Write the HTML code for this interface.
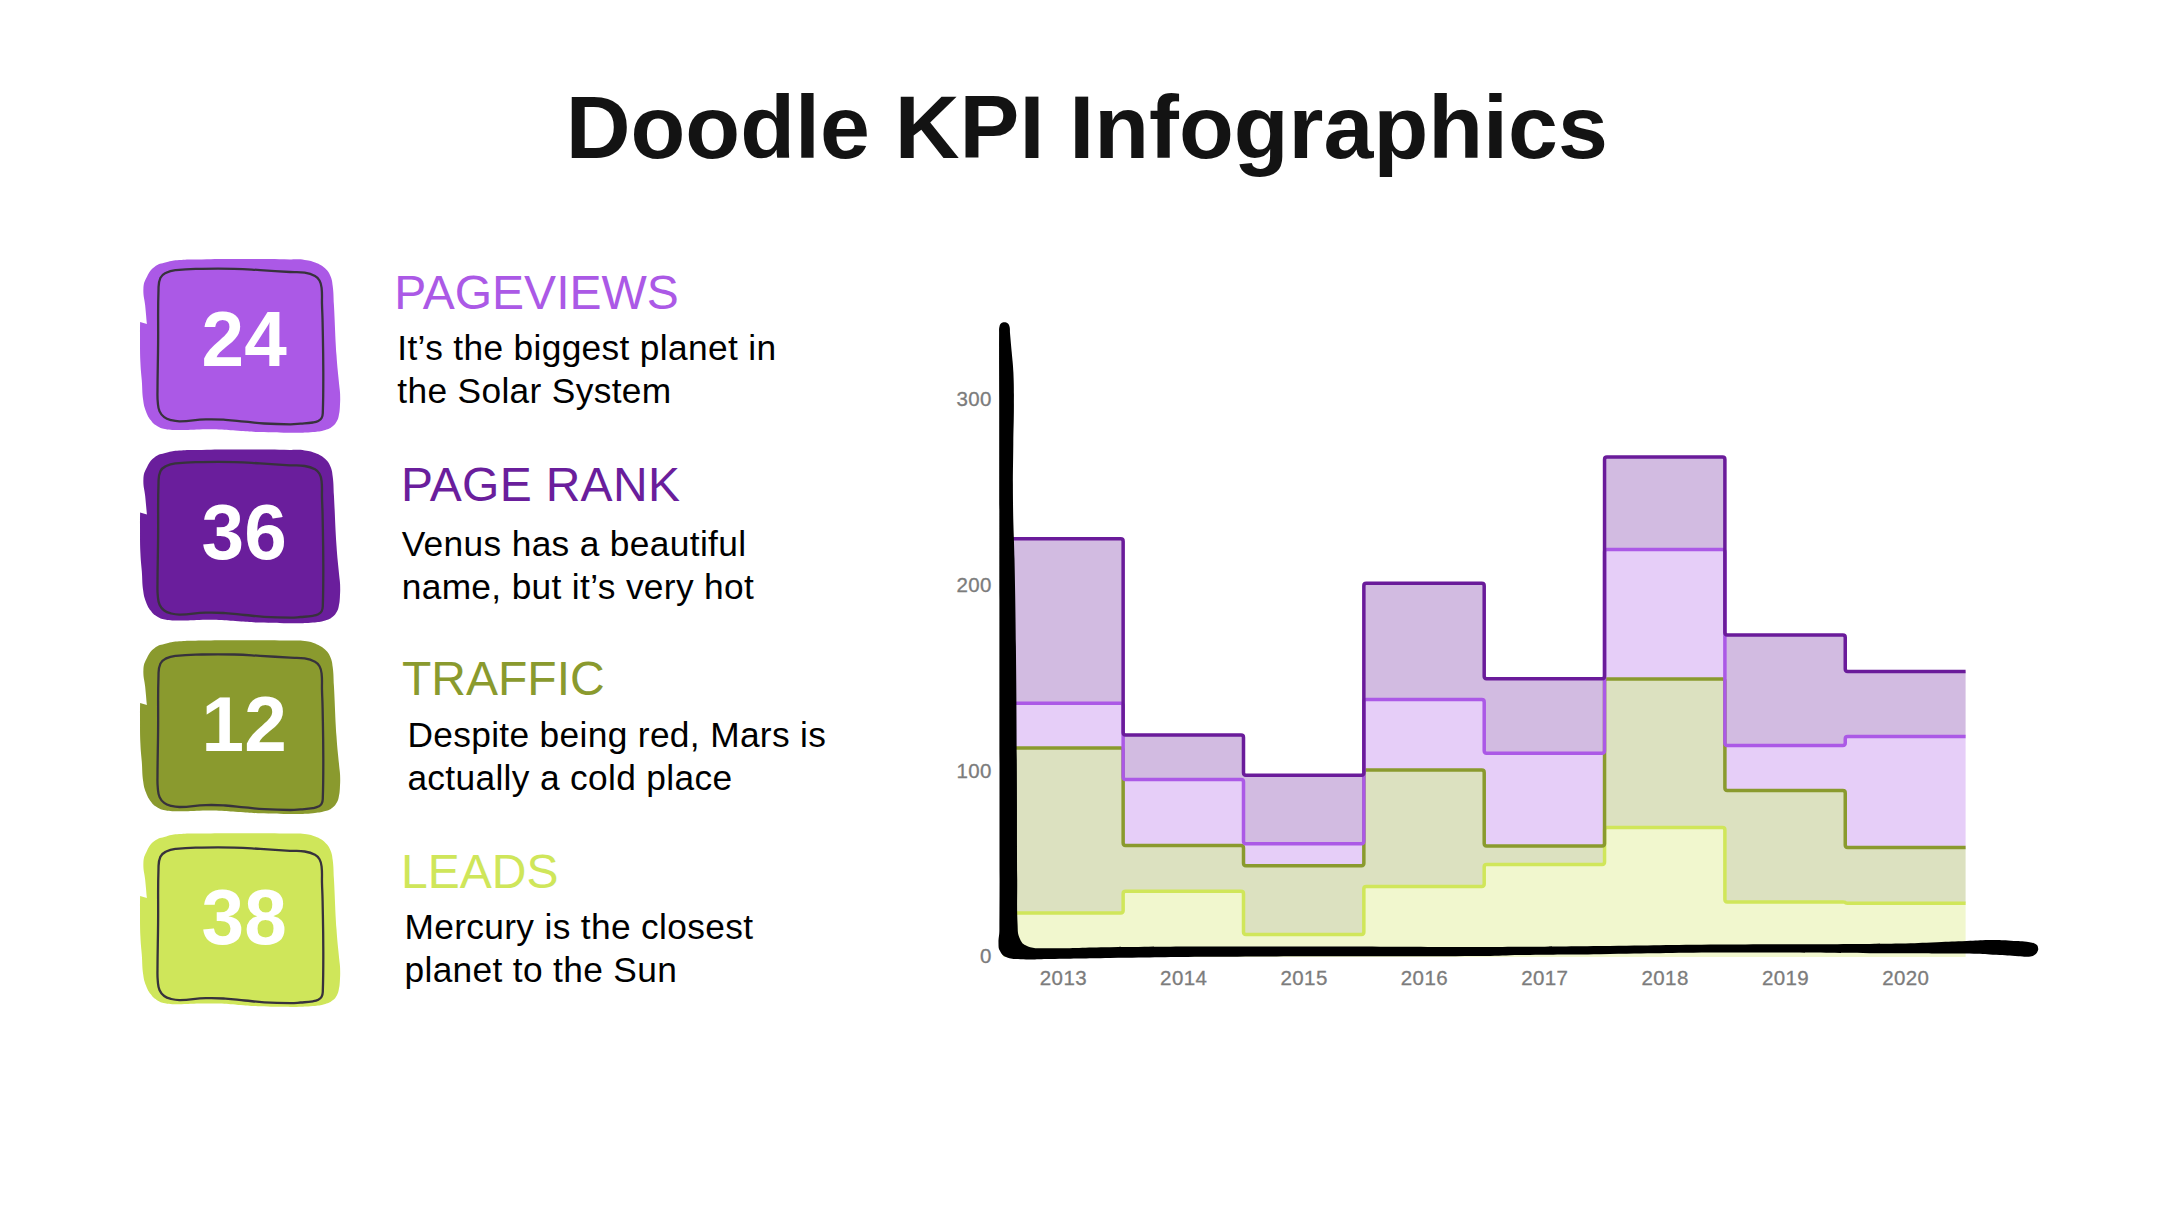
<!DOCTYPE html>
<html lang="en"><head><meta charset="utf-8"><title>Doodle KPI Infographics</title>
<style>
html,body{margin:0;padding:0;background:#fff;}
body{width:2160px;height:1215px;position:relative;overflow:hidden;font-family:"Liberation Sans",sans-serif;}
svg{position:absolute;left:0;top:0;}
.t{position:absolute;white-space:nowrap;line-height:1;margin:0;}
h1.t{font-weight:bold;color:#131313;}
.num{font-weight:bold;color:#fff;}

h2.t{font-weight:normal;}
.body{color:#000;font-size:35.3px;line-height:43px;letter-spacing:0.34px;}
.ax{font-size:20.5px;letter-spacing:0.4px;fill:#7c7c7c;stroke:#7c7c7c;stroke-width:0.3px;font-family:"Liberation Sans",sans-serif;}
</style></head><body>

<svg width="2160" height="1215" viewBox="0 0 2160 1215">
<path transform="translate(0,0.0)" d="M179.20,260.00 C189.44,259.17 191.53,259.57 201.80,259.40 C216.53,259.16 219.47,259.10 234.20,259.10 C259.56,259.10 266.50,259.13 290.00,259.40 C296.69,259.48 298.08,258.97 304.70,259.90 C310.43,260.71 311.67,260.95 317.00,263.20 C321.15,264.95 322.02,265.52 325.30,268.60 C328.13,271.26 328.67,272.03 330.20,275.60 C332.09,280.03 332.09,281.12 332.70,285.90 C333.77,294.26 333.44,295.99 333.90,304.40 C335.17,327.49 334.98,332.13 336.50,355.20 C337.39,368.77 338.00,372.03 339.20,385.00 C339.58,389.14 339.96,389.95 340.10,394.10 C340.28,399.73 340.24,400.87 339.90,406.50 C339.65,410.61 339.64,411.47 338.80,415.50 C338.23,418.23 338.18,418.88 336.80,421.30 C335.36,423.82 335.03,424.46 332.70,426.20 C329.69,428.45 328.91,428.84 325.30,429.90 C319.81,431.51 318.59,431.43 312.90,432.00 C305.47,432.75 303.96,432.62 296.50,432.80 C290.68,432.94 289.52,432.81 283.70,432.70 C271.93,432.49 269.57,432.59 257.80,432.10 C248.92,431.73 247.16,431.39 238.30,430.80 C229.48,430.21 227.73,429.80 218.90,429.50 C210.04,429.20 208.26,429.37 199.40,429.50 C190.31,429.64 188.49,430.21 179.40,430.10 C172.84,430.02 171.45,430.32 165.00,429.10 C161.01,428.34 160.13,427.97 156.70,425.80 C153.47,423.76 152.88,423.07 150.60,420.00 C147.96,416.44 147.56,415.55 146.00,411.40 C144.17,406.53 143.90,405.46 143.20,400.30 C141.99,391.41 142.46,389.55 141.80,380.60 C141.19,372.37 140.73,370.75 140.40,362.50 C139.91,350.14 140.09,347.66 140.00,335.30 C139.95,329.21 140.07,326.37 140.10,321.90 C142.37,322.57 144.63,323.23 146.90,323.90 C146.33,317.87 146.02,314.02 145.20,305.80 C144.43,298.16 143.10,296.67 143.40,289.00 C143.60,283.88 144.01,282.69 146.30,278.10 C149.09,272.51 149.51,270.88 154.40,267.00 C158.92,263.41 160.64,263.87 166.20,262.30 C171.98,260.67 173.22,260.49 179.20,260.00 Z" fill="#ab59e6"/><path transform="translate(0,0.0)" d="M158.50,290.00 C157.73,312.03 158.35,319.46 158.10,344.00 C157.89,364.91 157.60,370.57 157.50,390.00 C157.47,395.59 157.25,396.73 157.80,402.30 C158.21,406.50 157.94,407.53 159.60,411.40 C160.93,414.49 161.52,415.17 164.20,417.20 C166.96,419.29 167.85,419.33 171.20,420.20 C175.10,421.21 175.97,421.39 180.00,421.30 C191.57,421.03 194.10,419.79 205.90,419.40 C214.76,419.11 216.55,419.28 225.40,419.80 C234.24,420.32 235.98,420.86 244.80,421.70 C253.62,422.54 255.36,422.99 264.20,423.50 C276.00,424.18 278.38,424.24 290.20,424.30 C294.94,424.33 295.88,424.07 300.60,423.70 C306.20,423.26 307.35,423.38 312.90,422.50 C315.43,422.10 316.03,422.08 318.30,420.90 C320.07,419.98 320.65,419.76 321.60,418.00 C322.80,415.79 322.71,415.11 322.80,412.60 C323.37,397.17 323.34,390.29 323.30,371.70 C323.25,349.24 323.03,344.73 322.60,322.30 C322.44,314.16 322.24,312.54 322.00,304.40 C321.78,296.90 322.38,295.36 321.60,287.90 C321.24,284.42 321.20,283.56 319.50,280.50 C318.10,277.97 317.56,277.35 315.00,276.00 C310.65,273.71 309.55,273.48 304.70,272.70 C298.09,271.64 296.68,272.39 290.00,272.00 C276.45,271.21 273.75,270.88 260.20,270.10 C248.39,269.42 246.03,269.06 234.20,268.80 C219.48,268.47 216.52,268.47 201.80,268.80 C190.02,269.06 187.62,268.82 175.90,270.10 C171.36,270.60 170.28,270.65 166.20,272.70 C163.04,274.29 161.84,274.67 160.40,277.90 C158.14,282.99 158.69,284.44 158.50,290.00 Z" fill="none" stroke="#37323c" stroke-width="2.3" stroke-linejoin="round"/>
<path transform="translate(0,190.5)" d="M179.20,260.00 C189.44,259.17 191.53,259.57 201.80,259.40 C216.53,259.16 219.47,259.10 234.20,259.10 C259.56,259.10 266.50,259.13 290.00,259.40 C296.69,259.48 298.08,258.97 304.70,259.90 C310.43,260.71 311.67,260.95 317.00,263.20 C321.15,264.95 322.02,265.52 325.30,268.60 C328.13,271.26 328.67,272.03 330.20,275.60 C332.09,280.03 332.09,281.12 332.70,285.90 C333.77,294.26 333.44,295.99 333.90,304.40 C335.17,327.49 334.98,332.13 336.50,355.20 C337.39,368.77 338.00,372.03 339.20,385.00 C339.58,389.14 339.96,389.95 340.10,394.10 C340.28,399.73 340.24,400.87 339.90,406.50 C339.65,410.61 339.64,411.47 338.80,415.50 C338.23,418.23 338.18,418.88 336.80,421.30 C335.36,423.82 335.03,424.46 332.70,426.20 C329.69,428.45 328.91,428.84 325.30,429.90 C319.81,431.51 318.59,431.43 312.90,432.00 C305.47,432.75 303.96,432.62 296.50,432.80 C290.68,432.94 289.52,432.81 283.70,432.70 C271.93,432.49 269.57,432.59 257.80,432.10 C248.92,431.73 247.16,431.39 238.30,430.80 C229.48,430.21 227.73,429.80 218.90,429.50 C210.04,429.20 208.26,429.37 199.40,429.50 C190.31,429.64 188.49,430.21 179.40,430.10 C172.84,430.02 171.45,430.32 165.00,429.10 C161.01,428.34 160.13,427.97 156.70,425.80 C153.47,423.76 152.88,423.07 150.60,420.00 C147.96,416.44 147.56,415.55 146.00,411.40 C144.17,406.53 143.90,405.46 143.20,400.30 C141.99,391.41 142.46,389.55 141.80,380.60 C141.19,372.37 140.73,370.75 140.40,362.50 C139.91,350.14 140.09,347.66 140.00,335.30 C139.95,329.21 140.07,326.37 140.10,321.90 C142.37,322.57 144.63,323.23 146.90,323.90 C146.33,317.87 146.02,314.02 145.20,305.80 C144.43,298.16 143.10,296.67 143.40,289.00 C143.60,283.88 144.01,282.69 146.30,278.10 C149.09,272.51 149.51,270.88 154.40,267.00 C158.92,263.41 160.64,263.87 166.20,262.30 C171.98,260.67 173.22,260.49 179.20,260.00 Z" fill="#6a1e9c"/><path transform="translate(0,193.3)" d="M158.50,290.00 C157.73,312.03 158.35,319.46 158.10,344.00 C157.89,364.91 157.60,370.57 157.50,390.00 C157.47,395.59 157.25,396.73 157.80,402.30 C158.21,406.50 157.94,407.53 159.60,411.40 C160.93,414.49 161.52,415.17 164.20,417.20 C166.96,419.29 167.85,419.33 171.20,420.20 C175.10,421.21 175.97,421.39 180.00,421.30 C191.57,421.03 194.10,419.79 205.90,419.40 C214.76,419.11 216.55,419.28 225.40,419.80 C234.24,420.32 235.98,420.86 244.80,421.70 C253.62,422.54 255.36,422.99 264.20,423.50 C276.00,424.18 278.38,424.24 290.20,424.30 C294.94,424.33 295.88,424.07 300.60,423.70 C306.20,423.26 307.35,423.38 312.90,422.50 C315.43,422.10 316.03,422.08 318.30,420.90 C320.07,419.98 320.65,419.76 321.60,418.00 C322.80,415.79 322.71,415.11 322.80,412.60 C323.37,397.17 323.34,390.29 323.30,371.70 C323.25,349.24 323.03,344.73 322.60,322.30 C322.44,314.16 322.24,312.54 322.00,304.40 C321.78,296.90 322.38,295.36 321.60,287.90 C321.24,284.42 321.20,283.56 319.50,280.50 C318.10,277.97 317.56,277.35 315.00,276.00 C310.65,273.71 309.55,273.48 304.70,272.70 C298.09,271.64 296.68,272.39 290.00,272.00 C276.45,271.21 273.75,270.88 260.20,270.10 C248.39,269.42 246.03,269.06 234.20,268.80 C219.48,268.47 216.52,268.47 201.80,268.80 C190.02,269.06 187.62,268.82 175.90,270.10 C171.36,270.60 170.28,270.65 166.20,272.70 C163.04,274.29 161.84,274.67 160.40,277.90 C158.14,282.99 158.69,284.44 158.50,290.00 Z" fill="none" stroke="#37323c" stroke-width="2.3" stroke-linejoin="round"/>
<path transform="translate(0,381.2)" d="M179.20,260.00 C189.44,259.17 191.53,259.57 201.80,259.40 C216.53,259.16 219.47,259.10 234.20,259.10 C259.56,259.10 266.50,259.13 290.00,259.40 C296.69,259.48 298.08,258.97 304.70,259.90 C310.43,260.71 311.67,260.95 317.00,263.20 C321.15,264.95 322.02,265.52 325.30,268.60 C328.13,271.26 328.67,272.03 330.20,275.60 C332.09,280.03 332.09,281.12 332.70,285.90 C333.77,294.26 333.44,295.99 333.90,304.40 C335.17,327.49 334.98,332.13 336.50,355.20 C337.39,368.77 338.00,372.03 339.20,385.00 C339.58,389.14 339.96,389.95 340.10,394.10 C340.28,399.73 340.24,400.87 339.90,406.50 C339.65,410.61 339.64,411.47 338.80,415.50 C338.23,418.23 338.18,418.88 336.80,421.30 C335.36,423.82 335.03,424.46 332.70,426.20 C329.69,428.45 328.91,428.84 325.30,429.90 C319.81,431.51 318.59,431.43 312.90,432.00 C305.47,432.75 303.96,432.62 296.50,432.80 C290.68,432.94 289.52,432.81 283.70,432.70 C271.93,432.49 269.57,432.59 257.80,432.10 C248.92,431.73 247.16,431.39 238.30,430.80 C229.48,430.21 227.73,429.80 218.90,429.50 C210.04,429.20 208.26,429.37 199.40,429.50 C190.31,429.64 188.49,430.21 179.40,430.10 C172.84,430.02 171.45,430.32 165.00,429.10 C161.01,428.34 160.13,427.97 156.70,425.80 C153.47,423.76 152.88,423.07 150.60,420.00 C147.96,416.44 147.56,415.55 146.00,411.40 C144.17,406.53 143.90,405.46 143.20,400.30 C141.99,391.41 142.46,389.55 141.80,380.60 C141.19,372.37 140.73,370.75 140.40,362.50 C139.91,350.14 140.09,347.66 140.00,335.30 C139.95,329.21 140.07,326.37 140.10,321.90 C142.37,322.57 144.63,323.23 146.90,323.90 C146.33,317.87 146.02,314.02 145.20,305.80 C144.43,298.16 143.10,296.67 143.40,289.00 C143.60,283.88 144.01,282.69 146.30,278.10 C149.09,272.51 149.51,270.88 154.40,267.00 C158.92,263.41 160.64,263.87 166.20,262.30 C171.98,260.67 173.22,260.49 179.20,260.00 Z" fill="#8a9a2e"/><path transform="translate(0,385.7)" d="M158.50,290.00 C157.73,312.03 158.35,319.46 158.10,344.00 C157.89,364.91 157.60,370.57 157.50,390.00 C157.47,395.59 157.25,396.73 157.80,402.30 C158.21,406.50 157.94,407.53 159.60,411.40 C160.93,414.49 161.52,415.17 164.20,417.20 C166.96,419.29 167.85,419.33 171.20,420.20 C175.10,421.21 175.97,421.39 180.00,421.30 C191.57,421.03 194.10,419.79 205.90,419.40 C214.76,419.11 216.55,419.28 225.40,419.80 C234.24,420.32 235.98,420.86 244.80,421.70 C253.62,422.54 255.36,422.99 264.20,423.50 C276.00,424.18 278.38,424.24 290.20,424.30 C294.94,424.33 295.88,424.07 300.60,423.70 C306.20,423.26 307.35,423.38 312.90,422.50 C315.43,422.10 316.03,422.08 318.30,420.90 C320.07,419.98 320.65,419.76 321.60,418.00 C322.80,415.79 322.71,415.11 322.80,412.60 C323.37,397.17 323.34,390.29 323.30,371.70 C323.25,349.24 323.03,344.73 322.60,322.30 C322.44,314.16 322.24,312.54 322.00,304.40 C321.78,296.90 322.38,295.36 321.60,287.90 C321.24,284.42 321.20,283.56 319.50,280.50 C318.10,277.97 317.56,277.35 315.00,276.00 C310.65,273.71 309.55,273.48 304.70,272.70 C298.09,271.64 296.68,272.39 290.00,272.00 C276.45,271.21 273.75,270.88 260.20,270.10 C248.39,269.42 246.03,269.06 234.20,268.80 C219.48,268.47 216.52,268.47 201.80,268.80 C190.02,269.06 187.62,268.82 175.90,270.10 C171.36,270.60 170.28,270.65 166.20,272.70 C163.04,274.29 161.84,274.67 160.40,277.90 C158.14,282.99 158.69,284.44 158.50,290.00 Z" fill="none" stroke="#37323c" stroke-width="2.3" stroke-linejoin="round"/>
<path transform="translate(0,574.1)" d="M179.20,260.00 C189.44,259.17 191.53,259.57 201.80,259.40 C216.53,259.16 219.47,259.10 234.20,259.10 C259.56,259.10 266.50,259.13 290.00,259.40 C296.69,259.48 298.08,258.97 304.70,259.90 C310.43,260.71 311.67,260.95 317.00,263.20 C321.15,264.95 322.02,265.52 325.30,268.60 C328.13,271.26 328.67,272.03 330.20,275.60 C332.09,280.03 332.09,281.12 332.70,285.90 C333.77,294.26 333.44,295.99 333.90,304.40 C335.17,327.49 334.98,332.13 336.50,355.20 C337.39,368.77 338.00,372.03 339.20,385.00 C339.58,389.14 339.96,389.95 340.10,394.10 C340.28,399.73 340.24,400.87 339.90,406.50 C339.65,410.61 339.64,411.47 338.80,415.50 C338.23,418.23 338.18,418.88 336.80,421.30 C335.36,423.82 335.03,424.46 332.70,426.20 C329.69,428.45 328.91,428.84 325.30,429.90 C319.81,431.51 318.59,431.43 312.90,432.00 C305.47,432.75 303.96,432.62 296.50,432.80 C290.68,432.94 289.52,432.81 283.70,432.70 C271.93,432.49 269.57,432.59 257.80,432.10 C248.92,431.73 247.16,431.39 238.30,430.80 C229.48,430.21 227.73,429.80 218.90,429.50 C210.04,429.20 208.26,429.37 199.40,429.50 C190.31,429.64 188.49,430.21 179.40,430.10 C172.84,430.02 171.45,430.32 165.00,429.10 C161.01,428.34 160.13,427.97 156.70,425.80 C153.47,423.76 152.88,423.07 150.60,420.00 C147.96,416.44 147.56,415.55 146.00,411.40 C144.17,406.53 143.90,405.46 143.20,400.30 C141.99,391.41 142.46,389.55 141.80,380.60 C141.19,372.37 140.73,370.75 140.40,362.50 C139.91,350.14 140.09,347.66 140.00,335.30 C139.95,329.21 140.07,326.37 140.10,321.90 C142.37,322.57 144.63,323.23 146.90,323.90 C146.33,317.87 146.02,314.02 145.20,305.80 C144.43,298.16 143.10,296.67 143.40,289.00 C143.60,283.88 144.01,282.69 146.30,278.10 C149.09,272.51 149.51,270.88 154.40,267.00 C158.92,263.41 160.64,263.87 166.20,262.30 C171.98,260.67 173.22,260.49 179.20,260.00 Z" fill="#cfe65a"/><path transform="translate(0,578.8)" d="M158.50,290.00 C157.73,312.03 158.35,319.46 158.10,344.00 C157.89,364.91 157.60,370.57 157.50,390.00 C157.47,395.59 157.25,396.73 157.80,402.30 C158.21,406.50 157.94,407.53 159.60,411.40 C160.93,414.49 161.52,415.17 164.20,417.20 C166.96,419.29 167.85,419.33 171.20,420.20 C175.10,421.21 175.97,421.39 180.00,421.30 C191.57,421.03 194.10,419.79 205.90,419.40 C214.76,419.11 216.55,419.28 225.40,419.80 C234.24,420.32 235.98,420.86 244.80,421.70 C253.62,422.54 255.36,422.99 264.20,423.50 C276.00,424.18 278.38,424.24 290.20,424.30 C294.94,424.33 295.88,424.07 300.60,423.70 C306.20,423.26 307.35,423.38 312.90,422.50 C315.43,422.10 316.03,422.08 318.30,420.90 C320.07,419.98 320.65,419.76 321.60,418.00 C322.80,415.79 322.71,415.11 322.80,412.60 C323.37,397.17 323.34,390.29 323.30,371.70 C323.25,349.24 323.03,344.73 322.60,322.30 C322.44,314.16 322.24,312.54 322.00,304.40 C321.78,296.90 322.38,295.36 321.60,287.90 C321.24,284.42 321.20,283.56 319.50,280.50 C318.10,277.97 317.56,277.35 315.00,276.00 C310.65,273.71 309.55,273.48 304.70,272.70 C298.09,271.64 296.68,272.39 290.00,272.00 C276.45,271.21 273.75,270.88 260.20,270.10 C248.39,269.42 246.03,269.06 234.20,268.80 C219.48,268.47 216.52,268.47 201.80,268.80 C190.02,269.06 187.62,268.82 175.90,270.10 C171.36,270.60 170.28,270.65 166.20,272.70 C163.04,274.29 161.84,274.67 160.40,277.90 C158.14,282.99 158.69,284.44 158.50,290.00 Z" fill="none" stroke="#37323c" stroke-width="2.3" stroke-linejoin="round"/>
<path d="M1002.80,913.00 L1120.75,913.00 Q1123.15,913.00 1123.15,910.60 L1123.15,893.65 Q1123.15,891.25 1125.55,891.25 L1241.10,891.25 Q1243.50,891.25 1243.50,893.65 L1243.50,932.10 Q1243.50,934.50 1245.90,934.50 L1361.45,934.50 Q1363.85,934.50 1363.85,932.10 L1363.85,888.80 Q1363.85,886.40 1366.25,886.40 L1481.80,886.40 Q1484.20,886.40 1484.20,884.00 L1484.20,866.80 Q1484.20,864.40 1486.60,864.40 L1602.15,864.40 Q1604.55,864.40 1604.55,862.00 L1604.55,829.90 Q1604.55,827.50 1606.95,827.50 L1722.50,827.50 Q1724.90,827.50 1724.90,829.90 L1724.90,899.60 Q1724.90,902.00 1727.30,902.00 L1842.85,902.00 Q1845.25,902.00 1845.25,902.62 L1845.25,902.62 Q1845.25,903.25 1847.65,903.25 L1965.60,903.25 L1965.60,957.00 L1002.80,957.00 Z" fill="#f1f7ce"/>
<path d="M1002.80,748.00 L1120.75,748.00 Q1123.15,748.00 1123.15,750.40 L1123.15,843.10 Q1123.15,845.50 1125.55,845.50 L1241.10,845.50 Q1243.50,845.50 1243.50,847.90 L1243.50,863.35 Q1243.50,865.75 1245.90,865.75 L1361.45,865.75 Q1363.85,865.75 1363.85,863.35 L1363.85,772.40 Q1363.85,770.00 1366.25,770.00 L1481.80,770.00 Q1484.20,770.00 1484.20,772.40 L1484.20,843.60 Q1484.20,846.00 1486.60,846.00 L1602.15,846.00 Q1604.55,846.00 1604.55,843.60 L1604.55,681.40 Q1604.55,679.00 1606.95,679.00 L1722.50,679.00 Q1724.90,679.00 1724.90,681.40 L1724.90,788.10 Q1724.90,790.50 1727.30,790.50 L1842.85,790.50 Q1845.25,790.50 1845.25,792.90 L1845.25,845.10 Q1845.25,847.50 1847.65,847.50 L1965.60,847.50 L1965.60,903.25 L1847.65,903.25 Q1845.25,903.25 1845.25,902.62 L1845.25,902.62 Q1845.25,902.00 1842.85,902.00 L1727.30,902.00 Q1724.90,902.00 1724.90,899.60 L1724.90,829.90 Q1724.90,827.50 1722.50,827.50 L1606.95,827.50 Q1604.55,827.50 1604.55,829.90 L1604.55,862.00 Q1604.55,864.40 1602.15,864.40 L1486.60,864.40 Q1484.20,864.40 1484.20,866.80 L1484.20,884.00 Q1484.20,886.40 1481.80,886.40 L1366.25,886.40 Q1363.85,886.40 1363.85,888.80 L1363.85,932.10 Q1363.85,934.50 1361.45,934.50 L1245.90,934.50 Q1243.50,934.50 1243.50,932.10 L1243.50,893.65 Q1243.50,891.25 1241.10,891.25 L1125.55,891.25 Q1123.15,891.25 1123.15,893.65 L1123.15,910.60 Q1123.15,913.00 1120.75,913.00 L1002.80,913.00 Z" fill="#dce1c0"/>
<path d="M1002.80,703.25 L1120.75,703.25 Q1123.15,703.25 1123.15,705.65 L1123.15,777.00 Q1123.15,779.40 1125.55,779.40 L1241.10,779.40 Q1243.50,779.40 1243.50,781.80 L1243.50,841.35 Q1243.50,843.75 1245.90,843.75 L1361.45,843.75 Q1363.85,843.75 1363.85,841.35 L1363.85,701.90 Q1363.85,699.50 1366.25,699.50 L1481.80,699.50 Q1484.20,699.50 1484.20,701.90 L1484.20,750.85 Q1484.20,753.25 1486.60,753.25 L1602.15,753.25 Q1604.55,753.25 1604.55,750.85 L1604.55,551.90 Q1604.55,549.50 1606.95,549.50 L1722.50,549.50 Q1724.90,549.50 1724.90,551.90 L1724.90,743.10 Q1724.90,745.50 1727.30,745.50 L1842.85,745.50 Q1845.25,745.50 1845.25,743.10 L1845.25,738.90 Q1845.25,736.50 1847.65,736.50 L1965.60,736.50 L1965.60,847.50 L1847.65,847.50 Q1845.25,847.50 1845.25,845.10 L1845.25,792.90 Q1845.25,790.50 1842.85,790.50 L1727.30,790.50 Q1724.90,790.50 1724.90,788.10 L1724.90,681.40 Q1724.90,679.00 1722.50,679.00 L1606.95,679.00 Q1604.55,679.00 1604.55,681.40 L1604.55,843.60 Q1604.55,846.00 1602.15,846.00 L1486.60,846.00 Q1484.20,846.00 1484.20,843.60 L1484.20,772.40 Q1484.20,770.00 1481.80,770.00 L1366.25,770.00 Q1363.85,770.00 1363.85,772.40 L1363.85,863.35 Q1363.85,865.75 1361.45,865.75 L1245.90,865.75 Q1243.50,865.75 1243.50,863.35 L1243.50,847.90 Q1243.50,845.50 1241.10,845.50 L1125.55,845.50 Q1123.15,845.50 1123.15,843.10 L1123.15,750.40 Q1123.15,748.00 1120.75,748.00 L1002.80,748.00 Z" fill="#e6cef8"/>
<path d="M1002.80,538.75 L1120.75,538.75 Q1123.15,538.75 1123.15,541.15 L1123.15,732.60 Q1123.15,735.00 1125.55,735.00 L1241.10,735.00 Q1243.50,735.00 1243.50,737.40 L1243.50,772.80 Q1243.50,775.20 1245.90,775.20 L1361.45,775.20 Q1363.85,775.20 1363.85,772.80 L1363.85,585.65 Q1363.85,583.25 1366.25,583.25 L1481.80,583.25 Q1484.20,583.25 1484.20,585.65 L1484.20,676.35 Q1484.20,678.75 1486.60,678.75 L1602.15,678.75 Q1604.55,678.75 1604.55,676.35 L1604.55,459.40 Q1604.55,457.00 1606.95,457.00 L1722.50,457.00 Q1724.90,457.00 1724.90,459.40 L1724.90,632.60 Q1724.90,635.00 1727.30,635.00 L1842.85,635.00 Q1845.25,635.00 1845.25,637.40 L1845.25,669.10 Q1845.25,671.50 1847.65,671.50 L1965.60,671.50 L1965.60,736.50 L1847.65,736.50 Q1845.25,736.50 1845.25,738.90 L1845.25,743.10 Q1845.25,745.50 1842.85,745.50 L1727.30,745.50 Q1724.90,745.50 1724.90,743.10 L1724.90,551.90 Q1724.90,549.50 1722.50,549.50 L1606.95,549.50 Q1604.55,549.50 1604.55,551.90 L1604.55,750.85 Q1604.55,753.25 1602.15,753.25 L1486.60,753.25 Q1484.20,753.25 1484.20,750.85 L1484.20,701.90 Q1484.20,699.50 1481.80,699.50 L1366.25,699.50 Q1363.85,699.50 1363.85,701.90 L1363.85,841.35 Q1363.85,843.75 1361.45,843.75 L1245.90,843.75 Q1243.50,843.75 1243.50,841.35 L1243.50,781.80 Q1243.50,779.40 1241.10,779.40 L1125.55,779.40 Q1123.15,779.40 1123.15,777.00 L1123.15,705.65 Q1123.15,703.25 1120.75,703.25 L1002.80,703.25 Z" fill="#d2bbe1"/>
<path d="M1002.80,913.00 L1120.75,913.00 Q1123.15,913.00 1123.15,910.60 L1123.15,893.65 Q1123.15,891.25 1125.55,891.25 L1241.10,891.25 Q1243.50,891.25 1243.50,893.65 L1243.50,932.10 Q1243.50,934.50 1245.90,934.50 L1361.45,934.50 Q1363.85,934.50 1363.85,932.10 L1363.85,888.80 Q1363.85,886.40 1366.25,886.40 L1481.80,886.40 Q1484.20,886.40 1484.20,884.00 L1484.20,866.80 Q1484.20,864.40 1486.60,864.40 L1602.15,864.40 Q1604.55,864.40 1604.55,862.00 L1604.55,829.90 Q1604.55,827.50 1606.95,827.50 L1722.50,827.50 Q1724.90,827.50 1724.90,829.90 L1724.90,899.60 Q1724.90,902.00 1727.30,902.00 L1842.85,902.00 Q1845.25,902.00 1845.25,902.62 L1845.25,902.62 Q1845.25,903.25 1847.65,903.25 L1965.60,903.25 " fill="none" stroke="#d0e65a" stroke-width="3.5" stroke-linejoin="round" stroke-linecap="butt"/>
<path d="M1002.80,748.00 L1120.75,748.00 Q1123.15,748.00 1123.15,750.40 L1123.15,843.10 Q1123.15,845.50 1125.55,845.50 L1241.10,845.50 Q1243.50,845.50 1243.50,847.90 L1243.50,863.35 Q1243.50,865.75 1245.90,865.75 L1361.45,865.75 Q1363.85,865.75 1363.85,863.35 L1363.85,772.40 Q1363.85,770.00 1366.25,770.00 L1481.80,770.00 Q1484.20,770.00 1484.20,772.40 L1484.20,843.60 Q1484.20,846.00 1486.60,846.00 L1602.15,846.00 Q1604.55,846.00 1604.55,843.60 L1604.55,681.40 Q1604.55,679.00 1606.95,679.00 L1722.50,679.00 Q1724.90,679.00 1724.90,681.40 L1724.90,788.10 Q1724.90,790.50 1727.30,790.50 L1842.85,790.50 Q1845.25,790.50 1845.25,792.90 L1845.25,845.10 Q1845.25,847.50 1847.65,847.50 L1965.60,847.50 " fill="none" stroke="#8a9a2e" stroke-width="3.5" stroke-linejoin="round" stroke-linecap="butt"/>
<path d="M1002.80,703.25 L1120.75,703.25 Q1123.15,703.25 1123.15,705.65 L1123.15,777.00 Q1123.15,779.40 1125.55,779.40 L1241.10,779.40 Q1243.50,779.40 1243.50,781.80 L1243.50,841.35 Q1243.50,843.75 1245.90,843.75 L1361.45,843.75 Q1363.85,843.75 1363.85,841.35 L1363.85,701.90 Q1363.85,699.50 1366.25,699.50 L1481.80,699.50 Q1484.20,699.50 1484.20,701.90 L1484.20,750.85 Q1484.20,753.25 1486.60,753.25 L1602.15,753.25 Q1604.55,753.25 1604.55,750.85 L1604.55,551.90 Q1604.55,549.50 1606.95,549.50 L1722.50,549.50 Q1724.90,549.50 1724.90,551.90 L1724.90,743.10 Q1724.90,745.50 1727.30,745.50 L1842.85,745.50 Q1845.25,745.50 1845.25,743.10 L1845.25,738.90 Q1845.25,736.50 1847.65,736.50 L1965.60,736.50 " fill="none" stroke="#ab59e6" stroke-width="3.5" stroke-linejoin="round" stroke-linecap="butt"/>
<path d="M1002.80,538.75 L1120.75,538.75 Q1123.15,538.75 1123.15,541.15 L1123.15,732.60 Q1123.15,735.00 1125.55,735.00 L1241.10,735.00 Q1243.50,735.00 1243.50,737.40 L1243.50,772.80 Q1243.50,775.20 1245.90,775.20 L1361.45,775.20 Q1363.85,775.20 1363.85,772.80 L1363.85,585.65 Q1363.85,583.25 1366.25,583.25 L1481.80,583.25 Q1484.20,583.25 1484.20,585.65 L1484.20,676.35 Q1484.20,678.75 1486.60,678.75 L1602.15,678.75 Q1604.55,678.75 1604.55,676.35 L1604.55,459.40 Q1604.55,457.00 1606.95,457.00 L1722.50,457.00 Q1724.90,457.00 1724.90,459.40 L1724.90,632.60 Q1724.90,635.00 1727.30,635.00 L1842.85,635.00 Q1845.25,635.00 1845.25,637.40 L1845.25,669.10 Q1845.25,671.50 1847.65,671.50 L1965.60,671.50 " fill="none" stroke="#6a1b9a" stroke-width="3.5" stroke-linejoin="round" stroke-linecap="butt"/>
<path d="M1004.40,322.20 C1005.94,322.20 1006.42,322.31 1007.60,323.30 C1008.89,324.39 1009.09,324.86 1009.50,326.50 C1010.21,329.38 1009.75,330.05 1010.00,333.00 C1010.73,341.50 1010.96,343.36 1011.70,352.00 C1012.50,361.36 1013.01,363.21 1013.40,372.60 C1014.01,387.32 1013.92,390.27 1013.90,405.00 C1013.88,422.73 1013.46,426.27 1013.30,444.00 C1013.06,470.36 1012.72,475.64 1013.00,502.00 C1013.27,527.92 1013.98,533.09 1014.50,559.00 C1015.30,598.54 1015.45,606.45 1015.90,646.00 C1016.49,697.82 1016.51,708.18 1016.80,760.00 C1017.10,814.54 1016.94,825.45 1017.20,880.00 C1017.30,900.46 1016.67,905.33 1017.60,925.00 C1017.91,931.45 1017.36,933.11 1020.00,939.00 C1021.84,943.11 1022.85,944.25 1027.00,946.00 C1033.27,948.64 1035.00,948.10 1041.80,948.20 C1069.47,948.60 1079.00,947.51 1110.00,947.20 C1155.45,946.74 1164.54,946.62 1210.00,946.50 C1266.82,946.35 1278.18,946.50 1335.00,946.60 C1403.18,946.72 1416.82,947.15 1485.00,947.00 C1537.27,946.88 1547.73,946.56 1600.00,946.00 C1654.55,945.42 1665.45,944.92 1720.00,944.50 C1788.18,943.97 1810.00,944.20 1870.00,943.90 C1883.64,943.83 1886.37,943.95 1900.00,943.60 C1916.82,943.17 1920.18,942.83 1937.00,942.20 C1950.50,941.69 1953.20,941.65 1966.70,941.10 C1976.79,940.69 1978.80,940.19 1988.90,940.10 C1998.95,940.01 2000.96,940.18 2011.00,940.70 C2019.47,941.14 2021.22,940.91 2029.60,942.20 C2032.80,942.69 2033.64,942.76 2036.30,944.60 C2037.77,945.62 2037.76,946.34 2038.10,948.10 C2038.38,949.55 2038.25,949.98 2037.60,951.30 C2036.70,953.13 2036.53,953.73 2034.80,954.80 C2032.41,956.29 2031.71,956.44 2028.90,956.70 C2024.19,957.13 2023.22,956.58 2018.50,956.30 C2008.40,955.71 2006.40,955.39 1996.30,954.80 C1986.17,954.21 1984.15,953.95 1974.00,953.70 C1960.37,953.36 1957.64,953.57 1944.00,953.50 C1924.00,953.39 1920.00,953.38 1900.00,953.30 C1886.36,953.24 1883.64,953.25 1870.00,953.20 C1810.00,952.97 1788.18,952.35 1720.00,952.60 C1665.45,952.80 1654.55,953.55 1600.00,954.20 C1563.64,954.64 1556.36,954.43 1520.00,955.00 C1504.09,955.25 1500.92,955.89 1485.00,956.00 C1423.33,956.43 1403.18,956.10 1335.00,956.30 C1278.18,956.47 1266.82,956.37 1210.00,956.80 C1164.54,957.14 1155.45,957.38 1110.00,958.00 C1082.73,958.38 1077.27,958.63 1050.00,959.00 C1036.59,959.18 1033.90,959.81 1020.50,959.20 C1013.84,958.90 1012.19,959.48 1006.00,957.00 C1002.42,955.57 1001.93,954.34 1000.00,951.00 C998.37,948.18 998.59,947.25 998.50,944.00 C998.32,937.63 999.36,936.38 999.40,930.00 C999.73,882.00 999.50,859.09 999.50,800.00 C999.50,709.09 999.47,690.91 999.40,600.00 C999.33,509.09 999.30,489.00 999.20,400.00 C999.17,369.55 999.00,357.50 999.10,333.00 C999.11,330.04 998.87,329.39 999.50,326.50 C999.85,324.89 999.96,324.39 1001.20,323.30 C1002.36,322.29 1002.86,322.20 1004.40,322.20 Z" fill="#000"/>
<text class="ax" x="991.9" y="963.2" text-anchor="end">0</text>
<text class="ax" x="991.9" y="777.6" text-anchor="end">100</text>
<text class="ax" x="991.9" y="591.9" text-anchor="end">200</text>
<text class="ax" x="991.9" y="406.3" text-anchor="end">300</text>
<text class="ax" x="1063.4" y="984.8" text-anchor="middle">2013</text>
<text class="ax" x="1183.7" y="984.8" text-anchor="middle">2014</text>
<text class="ax" x="1304.1" y="984.8" text-anchor="middle">2015</text>
<text class="ax" x="1424.4" y="984.8" text-anchor="middle">2016</text>
<text class="ax" x="1544.8" y="984.8" text-anchor="middle">2017</text>
<text class="ax" x="1665.1" y="984.8" text-anchor="middle">2018</text>
<text class="ax" x="1785.5" y="984.8" text-anchor="middle">2019</text>
<text class="ax" x="1905.8" y="984.8" text-anchor="middle">2020</text>
</svg>
<h1 class="t ttl" style="left:565.70px;top:82.63px;font-size:89.75px;">Doodle KPI Infographics</h1>
<div class="t num" style="left:201.60px;top:301.54px;font-size:76.50px;transform:scaleY(1.025);transform-origin:0 84.65%;">24</div>
<div class="t num" style="left:201.60px;top:494.84px;font-size:76.50px;transform:scaleY(1.025);transform-origin:0 84.65%;">36</div>
<div class="t num" style="left:201.60px;top:687.24px;font-size:76.50px;transform:scaleY(1.025);transform-origin:0 84.65%;">12</div>
<div class="t num" style="left:201.60px;top:880.34px;font-size:76.50px;transform:scaleY(1.025);transform-origin:0 84.65%;">38</div>
<section>
<h2 class="t lab" style="left:394.30px;top:268.82px;font-size:48.00px;color:#ab59e6;">PAGEVIEWS</h2>
<p class="t body" style="left:397.30px;top:326.32px;">It’s the biggest planet in<br>the Solar System</p>
</section>
<section>
<h2 class="t lab" style="left:401.00px;top:461.32px;font-size:48.00px;color:#6a1e9c;letter-spacing:0.3px;">PAGE RANK</h2>
<p class="t body" style="left:401.70px;top:521.87px;">Venus has a beautiful<br>name, but it’s very hot</p>
</section>
<section>
<h2 class="t lab" style="left:402.00px;top:654.57px;font-size:48.00px;color:#8a9a2e;">TRAFFIC</h2>
<p class="t body" style="left:407.40px;top:713.27px;">Despite being red, Mars is<br>actually a cold place</p>
</section>
<section>
<h2 class="t lab" style="left:401.00px;top:847.57px;font-size:48.00px;color:#cfe65a;">LEADS</h2>
<p class="t body" style="left:404.50px;top:904.87px;">Mercury is the closest<br>planet to the Sun</p>
</section>
</body></html>
